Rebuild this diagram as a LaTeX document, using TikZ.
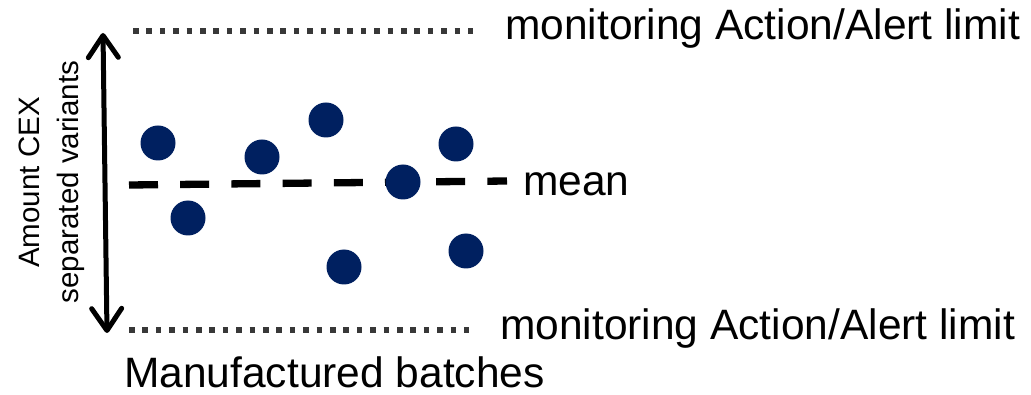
\documentclass[tikz,border=0pt]{standalone}
\usepackage{fontspec}
\setmainfont{Liberation Sans}
\usetikzlibrary{arrows.meta}
\definecolor{batchblue}{RGB}{0,32,96}
\definecolor{limitgray}{RGB}{56,56,56}
\tikzset{
  x=1pt, y=1pt,
  limitline/.style={draw=limitgray, line width=5.5pt, dash pattern=on 5.5pt off 7.9pt},
  meanline/.style={draw=black, line width=7.3pt, dash pattern=on 29pt off 22.2pt},
  batch/.style={circle, fill=batchblue, minimum size=35pt, inner sep=0pt},
  bigtext/.style={inner sep=0pt, font=\fontsize{42.5}{50}\selectfont},
  axistext/.style={inner sep=0pt, rotate=90, anchor=base, font=\fontsize{29.5}{34}\selectfont},
  axisarrow/.style={line width=5pt, {Straight Barb[length=22pt,width=30pt,round]}-{Straight Barb[length=22pt,width=30pt,round]}}
}
\begin{document}
\begin{tikzpicture}
\useasboundingbox (0,0) rectangle (1031,-395);

% control limits
\coordinate (ul1) at (133,-31);
\coordinate (ul2) at (473,-31);
\coordinate (ll1) at (129,-330);
\coordinate (ll2) at (469,-330);
\draw[limitline] (ul1) -- (ul2);
\draw[limitline] (ll1) -- (ll2);

% mean line
\coordinate (m1) at (129,-185);
\coordinate (m2) at (507,-181);
\draw[meanline] (m1) -- (m2);

% labels
\node[bigtext, anchor=base west] (upperlbl) at (505,-40) {monitoring Action/Alert limit};
\node[bigtext, anchor=base west] (lowerlbl) at (500,-340) {monitoring Action/Alert limit};
\node[bigtext, anchor=base west] (meanlbl) at (523,-196) {mean};
\node[bigtext, anchor=base west] (xlbl) at (124,-388) {Manufactured batches};

% vertical axis
\coordinate (atop) at (103,-33);
\coordinate (abot) at (107,-333);
\draw[axisarrow] (abot) -- (atop);
\node[axistext] (ylbl1) at (39,-182.5) {Amount CEX};
\node[axistext] (ylbl2) at (78,-182) {separated variants};

% batch results
\node[batch] (b1) at (158,-143) {};
\node[batch] (b2) at (188,-218) {};
\node[batch] (b3) at (262,-157) {};
\node[batch] (b4) at (326,-120) {};
\node[batch] (b5) at (344,-267) {};
\node[batch] (b6) at (403,-182) {};
\node[batch] (b7) at (456,-144) {};
\node[batch] (b8) at (466,-251) {};
\end{tikzpicture}
\end{document}
